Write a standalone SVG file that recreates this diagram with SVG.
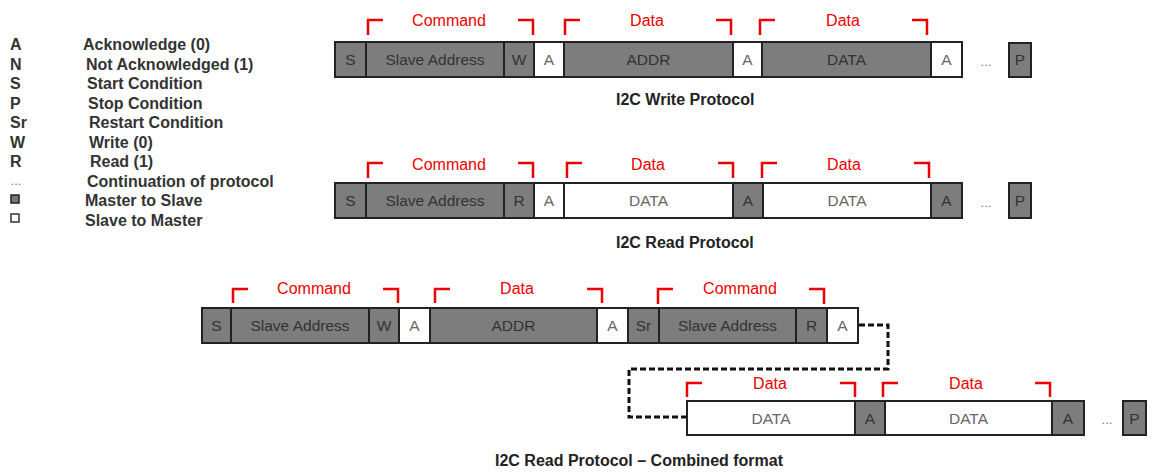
<svg xmlns="http://www.w3.org/2000/svg" width="1154" height="473" viewBox="0 0 1154 473">
<style>
.g{fill:#7d7d7d;stroke:#222;stroke-width:2}
.w{fill:#fff;stroke:#222;stroke-width:2}
.t{font-family:"Liberation Sans",Arial,sans-serif;font-size:15.5px;fill:#333;text-anchor:middle}
.tw{font-family:"Liberation Sans",Arial,sans-serif;font-size:15.5px;fill:#666;text-anchor:middle}
.br{fill:none;stroke:#ee0000;stroke-width:2.5}
.rl{font-family:"Liberation Sans",Arial,sans-serif;font-size:16px;fill:#ee0000;text-anchor:middle}
.cap{font-family:"Liberation Sans",Arial,sans-serif;font-size:16px;font-weight:bold;fill:#222}
.lg{font-family:"Liberation Sans",Arial,sans-serif;font-size:16px;font-weight:bold;fill:#333}
.dots{font-family:"Liberation Sans",Arial,sans-serif;font-size:13px;fill:#777;text-anchor:middle}
</style>
<rect width="1154" height="473" fill="#fff"/>
<g id="legend">
<text class="lg" x="10" y="50">A</text><text class="lg" x="83" y="50">Acknowledge (0)</text>
<text class="lg" x="10" y="69.5">N</text><text class="lg" x="86" y="69.5">Not Acknowledged (1)</text>
<text class="lg" x="10" y="89">S</text><text class="lg" x="87" y="89">Start Condition</text>
<text class="lg" x="10" y="108.5">P</text><text class="lg" x="88" y="108.5">Stop Condition</text>
<text class="lg" x="10" y="128">Sr</text><text class="lg" x="89" y="128">Restart Condition</text>
<text class="lg" x="10" y="147.5">W</text><text class="lg" x="89" y="147.5">Write (0)</text>
<text class="lg" x="10" y="167">R</text><text class="lg" x="90" y="167">Read (1)</text>
<text class="dots" x="16" y="185">...</text><text class="lg" x="87" y="186.5">Continuation of protocol</text>
<rect x="11" y="195" width="8" height="8" fill="#777" stroke="#222" stroke-width="1.5"/><text class="lg" x="85" y="206">Master to Slave</text>
<rect x="11" y="214" width="8" height="8" fill="#fff" stroke="#333" stroke-width="1.5"/><text class="lg" x="85" y="225.5">Slave to Master</text>
</g>

<!-- Row 1: write -->
<g id="w-S"><rect class="g" x="335" y="42" width="31" height="35"/><text class="t" x="350.5" y="65">S</text></g>
<g id="w-SA"><rect class="g" x="366" y="42" width="138" height="35"/><text class="t" x="435" y="65">Slave Address</text></g>
<g id="w-W"><rect class="g" x="504" y="42" width="30" height="35"/><text class="t" x="519" y="65">W</text></g>
<g id="w-A1"><rect class="w" x="534" y="42" width="30" height="35"/><text class="tw" x="549" y="65">A</text></g>
<g id="w-ADDR"><rect class="g" x="564" y="42" width="169" height="35"/><text class="t" x="648.5" y="65">ADDR</text></g>
<g id="w-A2"><rect class="w" x="733" y="42" width="29" height="35"/><text class="tw" x="747.5" y="65">A</text></g>
<g id="w-DATA"><rect class="g" x="762" y="42" width="169" height="35"/><text class="t" x="846.5" y="65">DATA</text></g>
<g id="w-A3"><rect class="w" x="931" y="42" width="31" height="35"/><text class="tw" x="946.5" y="65">A</text></g>
<g id="w-dots"><text class="dots" x="986" y="66">...</text></g>
<g id="w-P"><rect class="g" x="1009" y="43" width="22" height="34"/><text class="t" x="1020" y="65">P</text></g>
<g id="w-br">
<path class="br" d="M368 35V20H383M518 20H533V35"/><text class="rl" x="449" y="26">Command</text>
<path class="br" d="M565 35V20H580M716 20H731V35"/><text class="rl" x="647" y="26">Data</text>
<path class="br" d="M760 35V20H775M912 20H927V35"/><text class="rl" x="843" y="26">Data</text>
</g>
<text class="cap" x="616" y="105">I2C Write Protocol</text>

<!-- Row 2: read -->
<g id="r-S"><rect class="g" x="335" y="183" width="31" height="35"/><text class="t" x="350.5" y="206">S</text></g>
<g id="r-SA"><rect class="g" x="366" y="183" width="138" height="35"/><text class="t" x="435" y="206">Slave Address</text></g>
<g id="r-R"><rect class="g" x="504" y="183" width="30" height="35"/><text class="t" x="519" y="206">R</text></g>
<g id="r-A1"><rect class="w" x="534" y="183" width="30" height="35"/><text class="tw" x="549" y="206">A</text></g>
<g id="r-DATA1"><rect class="w" x="564" y="183" width="169" height="35"/><text class="tw" x="648.5" y="206">DATA</text></g>
<g id="r-A2"><rect class="g" x="733" y="183" width="30" height="35"/><text class="t" x="748" y="206">A</text></g>
<g id="r-DATA2"><rect class="w" x="763" y="183" width="168" height="35"/><text class="tw" x="847" y="206">DATA</text></g>
<g id="r-A3"><rect class="g" x="931" y="183" width="31" height="35"/><text class="t" x="946.5" y="206">A</text></g>
<g id="r-dots"><text class="dots" x="986" y="207">...</text></g>
<g id="r-P"><rect class="g" x="1009" y="183" width="22" height="35"/><text class="t" x="1020" y="206">P</text></g>
<g id="r-br">
<path class="br" d="M368 178V163H383M518 163H533V178"/><text class="rl" x="449" y="169.5">Command</text>
<path class="br" d="M567 178V163H582M718 163H733V178"/><text class="rl" x="648" y="169.5">Data</text>
<path class="br" d="M762 178V163H777M914 163H929V178"/><text class="rl" x="844" y="169.5">Data</text>
</g>
<text class="cap" x="616" y="248">I2C Read Protocol</text>

<!-- Row 3: combined -->
<g id="c-S"><rect class="g" x="202" y="308" width="29" height="35"/><text class="t" x="216.5" y="331">S</text></g>
<g id="c-SA1"><rect class="g" x="231" y="308" width="138" height="35"/><text class="t" x="300" y="331">Slave Address</text></g>
<g id="c-W"><rect class="g" x="369" y="308" width="30" height="35"/><text class="t" x="384" y="331">W</text></g>
<g id="c-A1"><rect class="w" x="399" y="308" width="31" height="35"/><text class="tw" x="414.5" y="331">A</text></g>
<g id="c-ADDR"><rect class="g" x="430" y="308" width="167" height="35"/><text class="t" x="513.5" y="331">ADDR</text></g>
<g id="c-A2"><rect class="w" x="597" y="308" width="31" height="35"/><text class="tw" x="612.5" y="331">A</text></g>
<g id="c-Sr"><rect class="g" x="628" y="308" width="31" height="35"/><text class="t" x="643.5" y="331">Sr</text></g>
<g id="c-SA2"><rect class="g" x="659" y="308" width="137" height="35"/><text class="t" x="727.5" y="331">Slave Address</text></g>
<g id="c-R"><rect class="g" x="796" y="308" width="31" height="35"/><text class="t" x="811.5" y="331">R</text></g>
<g id="c-A3"><rect class="w" x="827" y="308" width="31" height="35"/><text class="tw" x="842.5" y="331">A</text></g>
<g id="c-br">
<path class="br" d="M233 303V289H248M383 289H398V303"/><text class="rl" x="314" y="294">Command</text>
<path class="br" d="M435 303V289H450M587 289H602V303"/><text class="rl" x="517" y="294">Data</text>
<path class="br" d="M658 304V289H673M809 289H824V304"/><text class="rl" x="740" y="294">Command</text>
</g>

<!-- Row 4 -->
<g id="c-DATA1"><rect class="w" x="687" y="401" width="168" height="34"/><text class="tw" x="771" y="423.5">DATA</text></g>
<g id="c-A4"><rect class="g" x="855" y="401" width="30" height="34"/><text class="t" x="870" y="423.5">A</text></g>
<g id="c-DATA2"><rect class="w" x="885" y="401" width="167" height="34"/><text class="tw" x="968.5" y="423.5">DATA</text></g>
<g id="c-A5"><rect class="g" x="1052" y="401" width="32" height="34"/><text class="t" x="1068" y="423.5">A</text></g>
<g id="c-dots"><text class="dots" x="1107" y="424">...</text></g>
<g id="c-P"><rect class="g" x="1123" y="401" width="23" height="34"/><text class="t" x="1134.5" y="423.5">P</text></g>
<g id="c-br2">
<path class="br" d="M687 397V383H702M840 383H855V397"/><text class="rl" x="770" y="389">Data</text>
<path class="br" d="M883 397V383H898M1035 383H1050V397"/><text class="rl" x="966" y="389">Data</text>
</g>
<text class="cap" x="495" y="466">I2C Read Protocol – Combined format</text>

<g id="connectors">
<path d="M859 325H888V369H629V417H686" fill="none" stroke="#111" stroke-width="3" stroke-dasharray="6,3"/>
</g>
</svg>
